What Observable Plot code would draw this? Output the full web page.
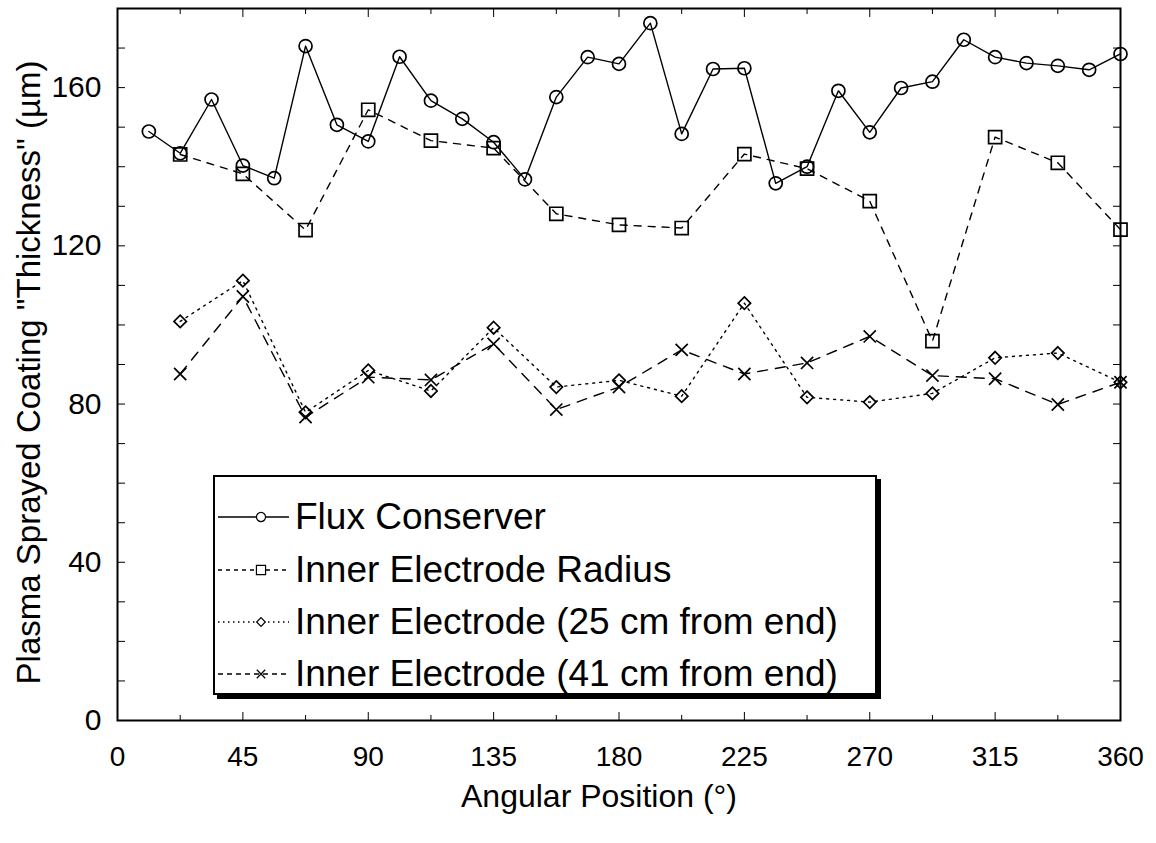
<!DOCTYPE html>
<html><head><meta charset="utf-8">
<script src="https://cdn.jsdelivr.net/npm/d3@7"></script>
<script src="https://cdn.jsdelivr.net/npm/@observablehq/plot@0.6"></script>
<style>
body{margin:0;background:#fff;}
#wrap{position:relative;width:1156px;height:843px;font-family:"Liberation Sans",Arial,Helvetica,sans-serif;}
#legend{position:absolute;left:213px;top:475px;width:660px;height:216px;border:2px solid #000;box-shadow:4px 4px 0 #000;background:#fff;}
.row{position:absolute;left:0;height:52px;display:flex;align-items:center;font-size:37px;color:#000;white-space:nowrap;}
.row svg{display:block;margin-right:4px;}
</style></head><body><div id="wrap"></div>
<script>
// ---- data ----
const fluxAngles = [11.25, 22.5, 33.75, 45, 56.25, 67.5, 78.75, 90, 101.25, 112.5, 123.75, 135, 146.25, 157.5, 168.75, 180,
  191.25, 202.5, 213.75, 225, 236.25, 247.5, 258.75, 270, 281.25, 292.5, 303.75, 315, 326.25, 337.5, 348.75, 360];
const fluxConserver = [148.9, 143.4, 157.0, 140.3, 137.1, 170.5, 150.6, 146.4, 167.8, 156.7, 152.1, 146.2, 136.8, 157.6, 167.7, 166.0,
  176.3, 148.3, 164.7, 164.9, 135.8, 140.0, 159.2, 148.7, 159.9, 161.5, 172.1, 167.7, 166.2, 165.5, 164.5, 168.5];
const electrodeAngles = [22.5, 45, 67.5, 90, 112.5, 135, 157.5, 180, 202.5, 225, 247.5, 270, 292.5, 315, 337.5, 360];
const innerRadius = [143.1, 138.2, 124.0, 154.4, 146.6, 144.7, 128.1, 125.3, 124.5, 143.2, 139.5, 131.3, 95.9, 147.5, 141.0, 124.1];
const inner25cm = [100.9, 111.2, 77.9, 88.5, 83.3, 99.3, 84.3, 86.0, 82.0, 105.5, 81.7, 80.5, 82.7, 91.7, 92.9, 85.5];
const inner41cm = [87.6, 107.2, 76.7, 86.8, 86.1, 95.2, 78.6, 84.3, 93.7, 87.6, 90.4, 97.1, 87.2, 86.4, 79.9, 85.5];
const xTickLabels = [0, 45, 90, 135, 180, 225, 270, 315, 360];
const xMinorTicks = [22.5, 67.5, 112.5, 157.5, 202.5, 247.5, 292.5, 337.5];
const yTickLabels = [0, 40, 80, 120, 160];
const yMinorTicks = [10, 20, 30, 50, 60, 70, 90, 100, 110, 130, 140, 150, 170];
const seriesNames = ["Flux Conserver", "Inner Electrode Radius", "Inner Electrode (25 cm from end)", "Inner Electrode (41 cm from end)"];
const xTitle = "Angular Position (°)";
const yTitle = "Plasma Sprayed Coating \"Thickness\" (µm)";

// ---- tables ----
const flux = fluxAngles.map((a, i) => ({a, v: fluxConserver[i]}));
const rad = electrodeAngles.map((a, i) => ({a, v: innerRadius[i]}));
const e25 = electrodeAngles.map((a, i) => ({a, v: inner25cm[i]}));
const e41 = electrodeAngles.map((a, i) => ({a, v: inner41cm[i]}));

const styles = [
  {dash: null, legendDash: null, symbol: "circle", r: 6.5},
  {dash: "7,7", legendDash: "4,4", symbol: "square2", r: 8.3},
  {dash: "2,5", legendDash: "1.5,3.5", symbol: "diamond2", r: 5.6},
  {dash: "10,8", legendDash: "5,4", symbol: "times", r: 5.6}
];
const tables = [flux, rad, e25, e41];

const font = "Liberation Sans, Arial, Helvetica, sans-serif";
const marks = [
  Plot.frame({stroke: "black", strokeWidth: 2}),
  Plot.axisX({anchor: "bottom", ticks: xTickLabels, tickSize: 0, tickPadding: 26, fontSize: 28, label: null}),
  Plot.axisX({anchor: "bottom", ticks: xTickLabels, tickSize: -8, text: null, label: null}),
  Plot.axisX({anchor: "bottom", ticks: xMinorTicks, tickSize: -5, text: null, label: null}),
  Plot.axisX({anchor: "top", ticks: xTickLabels, tickSize: -8, text: null, label: null}),
  Plot.axisX({anchor: "top", ticks: xMinorTicks, tickSize: -5, text: null, label: null}),
  Plot.axisY({anchor: "left", ticks: yTickLabels, tickSize: 0, tickPadding: 16, fontSize: 30, label: null}),
  Plot.axisY({anchor: "left", ticks: yTickLabels.concat(yMinorTicks), tickSize: -8, text: null, label: null}),
  Plot.axisY({anchor: "right", ticks: yTickLabels.concat(yMinorTicks), tickSize: -8, text: null, label: null}),
  Plot.text([xTitle], {frameAnchor: "bottom", dy: 76, dx: -20, fontSize: 32, textAnchor: "middle", lineAnchor: "middle"}),
  Plot.text([yTitle], {frameAnchor: "left", dx: -88, dy: 8, rotate: -90, fontSize: 33, textAnchor: "middle", lineAnchor: "middle"})
];
tables.forEach((t, k) => {
  const s = styles[k];
  marks.push(Plot.line(t, {x: "a", y: "v", stroke: "black", strokeWidth: 1.4, strokeDasharray: s.dash}));
  marks.push(Plot.dot(t, {x: "a", y: "v", symbol: s.symbol, r: s.r, stroke: "black", strokeWidth: 1.7, fill: "none"}));
});

const chart = Plot.plot({
  width: 1156, height: 843,
  marginLeft: 117, marginRight: 36, marginTop: 8, marginBottom: 123,
  style: {fontFamily: font, background: "white", color: "black"},
  x: {domain: [0, 360]},
  y: {domain: [0, 180]},
  marks
});
const wrap = document.getElementById("wrap");
wrap.appendChild(chart);

// ---- legend ----
const legend = document.createElement("div");
legend.id = "legend";
wrap.appendChild(legend);
const rowTops = [14, 67, 119, 171];
seriesNames.forEach((name, k) => {
  const s = styles[k];
  const row = document.createElement("div");
  row.className = "row";
  row.style.top = rowTops[k] + "px";
  const svg = d3.create("svg").attr("width", 76).attr("height", 52);
  svg.append("line").attr("x1", 3).attr("x2", 74).attr("y1", 26).attr("y2", 26)
    .attr("stroke", "black").attr("stroke-width", 1.3).attr("stroke-dasharray", s.legendDash);
  const sym = {circle: d3.symbolCircle, square2: d3.symbolSquare2, diamond2: d3.symbolDiamond2, times: d3.symbolTimes}[s.symbol];
  svg.append("path").attr("d", d3.symbol(sym, Math.PI * (s.r * 0.7) ** 2)())
    .attr("transform", "translate(46,26)").attr("fill", "white").attr("stroke", "black").attr("stroke-width", 1.2);
  row.appendChild(svg.node());
  const span = document.createElement("span");
  span.textContent = name;
  row.appendChild(span);
  legend.appendChild(row);
});
</script></body></html>
